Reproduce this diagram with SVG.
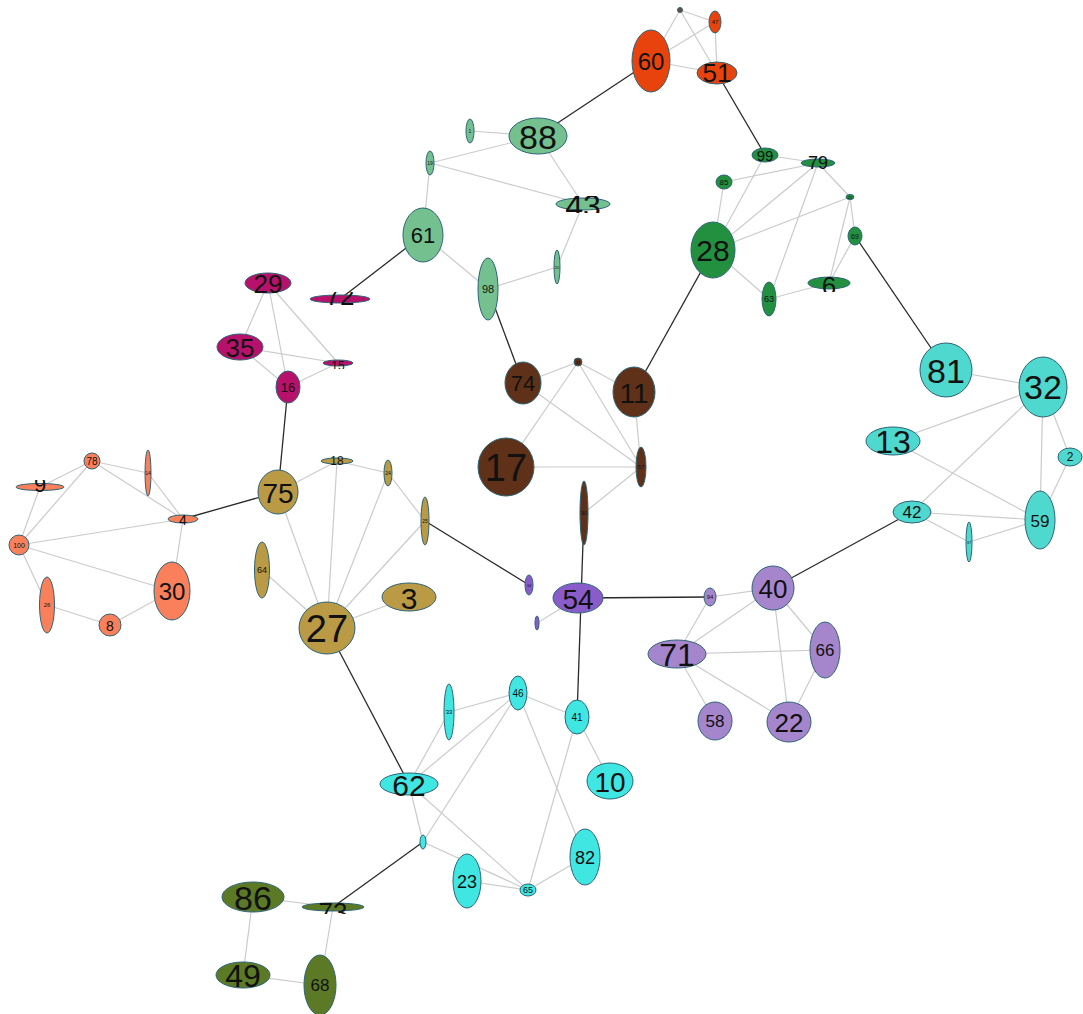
<svg xmlns="http://www.w3.org/2000/svg" width="1083" height="1014" viewBox="0 0 1083 1014">
<style>
.e{stroke:#cbcbcb;stroke-width:1.2;fill:none}
.d{stroke:#2a2a2a;stroke-width:1.3;fill:none}
ellipse{stroke:#2d6476;stroke-width:1}
text{font-family:"Liberation Sans",Arial,sans-serif;fill:#111;text-anchor:middle;dominant-baseline:central}
.red{fill:#e8430d}.sg{fill:#74c18f}.dg{fill:#22903f}.mg{fill:#b8116b}
.sa{fill:#f9805b}.go{fill:#ba9a44}.br{fill:#5e3118}.pu{fill:#8a5cc9}
.la{fill:#a585cc}.tq{fill:#4ed8ce}.cy{fill:#40e6e2}.ol{fill:#5c7a26}
</style>
<defs>
<clipPath id="c43"><rect x="554" y="196" width="58" height="17"/></clipPath>
<clipPath id="c72"><rect x="308" y="292" width="64" height="14"/></clipPath>
<clipPath id="c15"><rect x="321" y="357" width="34" height="12"/></clipPath>
<clipPath id="c79"><rect x="799" y="156" width="38" height="14"/></clipPath>
<clipPath id="c6"><rect x="806" y="274" width="46" height="18"/></clipPath>
<clipPath id="c9"><rect x="14" y="480" width="52" height="14"/></clipPath>
<clipPath id="c4"><rect x="166" y="512" width="34" height="14"/></clipPath>
<clipPath id="c73"><rect x="300" y="900" width="66" height="14"/></clipPath>
<clipPath id="c18"><rect x="319" y="455" width="36" height="12"/></clipPath>
</defs>
<g id="edges">
<line class="e" x1="680" y1="10" x2="651" y2="61"/>
<line class="e" x1="680" y1="10" x2="717" y2="73"/>
<line class="e" x1="680" y1="10" x2="715" y2="22"/>
<line class="e" x1="715" y1="22" x2="651" y2="61"/>
<line class="e" x1="715" y1="22" x2="717" y2="73"/>
<line class="e" x1="651" y1="61" x2="717" y2="73"/>
<line class="e" x1="470" y1="131" x2="538" y2="136"/>
<line class="e" x1="538" y1="136" x2="430" y2="163"/>
<line class="e" x1="430" y1="163" x2="583" y2="204"/>
<line class="e" x1="538" y1="136" x2="583" y2="204"/>
<line class="e" x1="583" y1="204" x2="557" y2="267"/>
<line class="e" x1="557" y1="267" x2="488" y2="289"/>
<line class="e" x1="423" y1="235" x2="430" y2="163"/>
<line class="e" x1="423" y1="235" x2="488" y2="289"/>
<line class="e" x1="765" y1="155" x2="818" y2="163"/>
<line class="e" x1="724" y1="182" x2="818" y2="163"/>
<line class="e" x1="765" y1="155" x2="713" y2="250"/>
<line class="e" x1="724" y1="182" x2="713" y2="250"/>
<line class="e" x1="818" y1="163" x2="713" y2="250"/>
<line class="e" x1="818" y1="163" x2="850" y2="197"/>
<line class="e" x1="818" y1="163" x2="769" y2="299"/>
<line class="e" x1="850" y1="197" x2="713" y2="250"/>
<line class="e" x1="850" y1="197" x2="855" y2="236"/>
<line class="e" x1="850" y1="197" x2="829" y2="283"/>
<line class="e" x1="855" y1="236" x2="829" y2="283"/>
<line class="e" x1="713" y1="250" x2="769" y2="299"/>
<line class="e" x1="769" y1="299" x2="829" y2="283"/>
<line class="e" x1="268" y1="283" x2="240" y2="347"/>
<line class="e" x1="268" y1="283" x2="288" y2="387"/>
<line class="e" x1="268" y1="283" x2="338" y2="363"/>
<line class="e" x1="240" y1="347" x2="338" y2="363"/>
<line class="e" x1="240" y1="347" x2="288" y2="387"/>
<line class="e" x1="288" y1="387" x2="338" y2="363"/>
<line class="e" x1="92" y1="461" x2="40" y2="487"/>
<line class="e" x1="92" y1="461" x2="148" y2="473"/>
<line class="e" x1="92" y1="461" x2="183" y2="519"/>
<line class="e" x1="148" y1="473" x2="183" y2="519"/>
<line class="e" x1="40" y1="487" x2="19" y2="545"/>
<line class="e" x1="92" y1="461" x2="19" y2="545"/>
<line class="e" x1="19" y1="545" x2="183" y2="519"/>
<line class="e" x1="19" y1="545" x2="172" y2="591"/>
<line class="e" x1="19" y1="545" x2="47" y2="605"/>
<line class="e" x1="183" y1="519" x2="172" y2="591"/>
<line class="e" x1="47" y1="605" x2="110" y2="625"/>
<line class="e" x1="110" y1="625" x2="172" y2="591"/>
<line class="e" x1="278" y1="492" x2="337" y2="461"/>
<line class="e" x1="337" y1="461" x2="327" y2="628"/>
<line class="e" x1="337" y1="461" x2="388" y2="473"/>
<line class="e" x1="388" y1="473" x2="327" y2="628"/>
<line class="e" x1="388" y1="473" x2="425" y2="521"/>
<line class="e" x1="425" y1="521" x2="327" y2="628"/>
<line class="e" x1="278" y1="492" x2="327" y2="628"/>
<line class="e" x1="262" y1="570" x2="327" y2="628"/>
<line class="e" x1="409" y1="597" x2="327" y2="628"/>
<line class="e" x1="523" y1="383" x2="578" y2="362"/>
<line class="e" x1="578" y1="362" x2="634" y2="392"/>
<line class="e" x1="578" y1="362" x2="506" y2="467"/>
<line class="e" x1="578" y1="362" x2="641" y2="467"/>
<line class="e" x1="523" y1="383" x2="641" y2="467"/>
<line class="e" x1="634" y1="392" x2="641" y2="467"/>
<line class="e" x1="506" y1="467" x2="641" y2="467"/>
<line class="e" x1="641" y1="467" x2="584" y2="513"/>
<line class="e" x1="578" y1="598" x2="537" y2="623"/>
<line class="e" x1="710" y1="597" x2="773" y2="588"/>
<line class="e" x1="710" y1="597" x2="677" y2="654"/>
<line class="e" x1="773" y1="588" x2="677" y2="654"/>
<line class="e" x1="773" y1="588" x2="825" y2="650"/>
<line class="e" x1="773" y1="588" x2="789" y2="722"/>
<line class="e" x1="677" y1="654" x2="825" y2="650"/>
<line class="e" x1="677" y1="654" x2="715" y2="721"/>
<line class="e" x1="677" y1="654" x2="789" y2="722"/>
<line class="e" x1="825" y1="650" x2="789" y2="722"/>
<line class="e" x1="946" y1="370" x2="1043" y2="387"/>
<line class="e" x1="1043" y1="387" x2="893" y2="441"/>
<line class="e" x1="1043" y1="387" x2="912" y2="512"/>
<line class="e" x1="1043" y1="387" x2="1040" y2="520"/>
<line class="e" x1="1043" y1="387" x2="1070" y2="457"/>
<line class="e" x1="1070" y1="457" x2="1040" y2="520"/>
<line class="e" x1="893" y1="441" x2="1040" y2="520"/>
<line class="e" x1="912" y1="512" x2="1040" y2="520"/>
<line class="e" x1="912" y1="512" x2="969" y2="542"/>
<line class="e" x1="969" y1="542" x2="1040" y2="520"/>
<line class="e" x1="449" y1="712" x2="518" y2="693"/>
<line class="e" x1="449" y1="712" x2="409" y2="784"/>
<line class="e" x1="518" y1="693" x2="409" y2="784"/>
<line class="e" x1="518" y1="693" x2="577" y2="717"/>
<line class="e" x1="518" y1="693" x2="423" y2="842"/>
<line class="e" x1="518" y1="693" x2="585" y2="857"/>
<line class="e" x1="577" y1="717" x2="610" y2="781"/>
<line class="e" x1="577" y1="717" x2="528" y2="890"/>
<line class="e" x1="409" y1="784" x2="423" y2="842"/>
<line class="e" x1="409" y1="784" x2="528" y2="890"/>
<line class="e" x1="423" y1="842" x2="528" y2="890"/>
<line class="e" x1="467" y1="881" x2="528" y2="890"/>
<line class="e" x1="585" y1="857" x2="528" y2="890"/>
<line class="e" x1="253" y1="897" x2="333" y2="907"/>
<line class="e" x1="253" y1="897" x2="243" y2="975"/>
<line class="e" x1="243" y1="975" x2="320" y2="985"/>
<line class="e" x1="333" y1="907" x2="320" y2="985"/>
<line class="d" x1="651" y1="61" x2="538" y2="136"/>
<line class="d" x1="717" y1="73" x2="765" y2="155"/>
<line class="d" x1="423" y1="235" x2="340" y2="299"/>
<line class="d" x1="488" y1="289" x2="523" y2="383"/>
<line class="d" x1="634" y1="392" x2="713" y2="250"/>
<line class="d" x1="855" y1="236" x2="946" y2="370"/>
<line class="d" x1="288" y1="387" x2="278" y2="492"/>
<line class="d" x1="278" y1="492" x2="183" y2="519"/>
<line class="d" x1="425" y1="521" x2="529" y2="585"/>
<line class="d" x1="327" y1="628" x2="409" y2="784"/>
<line class="d" x1="584" y1="513" x2="577" y2="717"/>
<line class="d" x1="578" y1="598" x2="710" y2="597"/>
<line class="d" x1="773" y1="588" x2="912" y2="512"/>
<line class="d" x1="423" y1="842" x2="333" y2="907"/>
</g>
<g id="n5"><ellipse cx="680" cy="10" rx="2.5" ry="2.5" fill="#6a4a3a"/></g>
<g id="n47"><ellipse class="red" cx="715" cy="22" rx="6" ry="11"/><text x="715" y="22" font-size="6">47</text></g>
<g id="n60"><ellipse class="red" cx="651" cy="61" rx="19" ry="31"/><text x="651" y="61" font-size="24">60</text></g>
<g id="n51"><ellipse class="red" cx="717" cy="73" rx="20" ry="11"/><text x="717" y="73" font-size="26">51</text></g>
<g id="n1"><ellipse class="sg" cx="470" cy="131" rx="4" ry="12"/><text x="470" y="131" font-size="5">1</text></g>
<g id="n88"><ellipse class="sg" cx="538" cy="136" rx="29" ry="18"/><text x="538" y="137" font-size="34">88</text></g>
<g id="n43"><ellipse class="sg" cx="583" cy="204" rx="27" ry="6"/><text x="583" y="206" font-size="32" clip-path="url(#c43)">43</text></g>
<g id="n20"><ellipse class="sg" cx="557" cy="267" rx="3" ry="17"/><text x="557" y="267" font-size="4">20</text></g>
<g id="n98"><ellipse class="sg" cx="488" cy="289" rx="10" ry="31"/><text x="488" y="289" font-size="11">98</text></g>
<g id="n19"><ellipse class="sg" cx="430" cy="163" rx="4" ry="12"/><text x="430" y="163" font-size="5">19</text></g>
<g id="n61"><ellipse class="sg" cx="423" cy="235" rx="20" ry="27"/><text x="423" y="235" font-size="22">61</text></g>
<g id="n99"><ellipse class="dg" cx="765" cy="155" rx="13" ry="7"/><text x="765" y="155" font-size="15">99</text></g>
<g id="n79"><ellipse class="dg" cx="818" cy="163" rx="17" ry="4"/><text x="818" y="163" font-size="18" clip-path="url(#c79)">79</text></g>
<g id="n85"><ellipse class="dg" cx="724" cy="182" rx="8" ry="7"/><text x="724" y="182" font-size="8">85</text></g>
<g id="n21"><ellipse class="dg" cx="850" cy="197" rx="4" ry="2.5"/><text x="850" y="197" font-size="4">21</text></g>
<g id="n69"><ellipse class="dg" cx="855" cy="236" rx="7" ry="9"/><text x="855" y="236" font-size="7">69</text></g>
<g id="n28"><ellipse class="dg" cx="713" cy="250" rx="22" ry="28"/><text x="713" y="250" font-size="30">28</text></g>
<g id="n63"><ellipse class="dg" cx="769" cy="299" rx="7" ry="17"/><text x="769" y="299" font-size="9">63</text></g>
<g id="n6"><ellipse class="dg" cx="829" cy="283" rx="21" ry="6"/><text x="829" y="286" font-size="26" clip-path="url(#c6)">6</text></g>
<g id="n29"><ellipse class="mg" cx="268" cy="283" rx="23" ry="10"/><text x="268" y="284" font-size="26">29</text></g>
<g id="n72"><ellipse class="mg" cx="340" cy="299" rx="30" ry="4"/><text x="340" y="296" font-size="26" clip-path="url(#c72)">72</text></g>
<g id="n35"><ellipse class="mg" cx="240" cy="347" rx="23" ry="13"/><text x="240" y="348" font-size="26">35</text></g>
<g id="n15"><ellipse class="mg" cx="338" cy="363" rx="15" ry="3"/><text x="338" y="366" font-size="12" clip-path="url(#c15)">15</text></g>
<g id="n16"><ellipse class="mg" cx="288" cy="387" rx="12" ry="16"/><text x="288" y="387" font-size="13">16</text></g>
<g id="n78"><ellipse class="sa" cx="92" cy="461" rx="8" ry="8"/><text x="92" y="461" font-size="10">78</text></g>
<g id="n14"><ellipse class="sa" cx="148" cy="473" rx="3" ry="23"/><text x="148" y="473" font-size="5">14</text></g>
<g id="n9"><ellipse class="sa" cx="40" cy="487" rx="24" ry="3.5"/><text x="40" y="484" font-size="22" clip-path="url(#c9)">9</text></g>
<g id="n4"><ellipse class="sa" cx="183" cy="519" rx="15" ry="4"/><text x="183" y="520" font-size="14" clip-path="url(#c4)">4</text></g>
<g id="n100"><ellipse class="sa" cx="19" cy="545" rx="10" ry="10"/><text x="19" y="545" font-size="7">100</text></g>
<g id="n30"><ellipse class="sa" cx="172" cy="591" rx="18" ry="29"/><text x="172" y="591" font-size="24">30</text></g>
<g id="n26"><ellipse class="sa" cx="47" cy="605" rx="7.5" ry="28"/><text x="47" y="605" font-size="6">26</text></g>
<g id="n8"><ellipse class="sa" cx="110" cy="625" rx="11" ry="11"/><text x="110" y="626" font-size="14">8</text></g>
<g id="n75"><ellipse class="go" cx="278" cy="492" rx="20" ry="22"/><text x="278" y="493" font-size="28">75</text></g>
<g id="n18"><ellipse class="go" cx="337" cy="461" rx="16" ry="3"/><text x="337" y="461" font-size="12" clip-path="url(#c18)">18</text></g>
<g id="n24"><ellipse class="go" cx="388" cy="473" rx="4" ry="13"/><text x="388" y="473" font-size="5">24</text></g>
<g id="n25"><ellipse class="go" cx="425" cy="521" rx="4" ry="24"/><text x="425" y="521" font-size="5">25</text></g>
<g id="n64"><ellipse class="go" cx="262" cy="570" rx="7.5" ry="28"/><text x="262" y="570" font-size="9">64</text></g>
<g id="n3"><ellipse class="go" cx="409" cy="597" rx="27" ry="14"/><text x="409" y="598" font-size="30">3</text></g>
<g id="n27"><ellipse class="go" cx="327" cy="628" rx="28" ry="26"/><text x="327" y="629" font-size="38">27</text></g>
<g id="n74"><ellipse class="br" cx="523" cy="383" rx="18" ry="21"/><text x="523" y="383" font-size="22">74</text></g>
<g id="n31"><ellipse class="br" cx="578" cy="362" rx="4" ry="4"/><text x="578" y="362" font-size="4">31</text></g>
<g id="n11"><ellipse class="br" cx="634" cy="392" rx="21" ry="25"/><text x="634" y="393" font-size="28">11</text></g>
<g id="n17"><ellipse class="br" cx="506" cy="467" rx="28" ry="29"/><text x="506" y="468" font-size="38">17</text></g>
<g id="n57"><ellipse class="br" cx="641" cy="467" rx="5" ry="20"/><text x="641" y="467" font-size="6">57</text></g>
<g id="n90"><ellipse class="br" cx="584" cy="513" rx="4" ry="32"/><text x="584" y="513" font-size="5">90</text></g>
<g id="n34"><ellipse class="pu" cx="529" cy="585" rx="4" ry="10"/><text x="529" y="585" font-size="4">34</text></g>
<g id="n54"><ellipse class="pu" cx="578" cy="598" rx="25" ry="15"/><text x="578" y="599" font-size="28">54</text></g>
<g id="n36"><ellipse class="pu" cx="537" cy="623" rx="2" ry="7"/></g>
<g id="n94"><ellipse class="la" cx="710" cy="597" rx="6" ry="9"/><text x="710" y="597" font-size="6">94</text></g>
<g id="n40"><ellipse class="la" cx="773" cy="588" rx="21" ry="22"/><text x="773" y="589" font-size="26">40</text></g>
<g id="n71"><ellipse class="la" cx="677" cy="654" rx="29" ry="14"/><text x="677" y="655" font-size="32">71</text></g>
<g id="n66"><ellipse class="la" cx="825" cy="650" rx="15" ry="28"/><text x="825" y="650" font-size="17">66</text></g>
<g id="n58"><ellipse class="la" cx="715" cy="721" rx="17" ry="19"/><text x="715" y="721" font-size="17">58</text></g>
<g id="n22"><ellipse class="la" cx="789" cy="722" rx="22" ry="20"/><text x="789" y="723" font-size="26">22</text></g>
<g id="n81"><ellipse class="tq" cx="946" cy="370" rx="26" ry="27"/><text x="946" y="371" font-size="34">81</text></g>
<g id="n32"><ellipse class="tq" cx="1043" cy="387" rx="24" ry="30"/><text x="1043" y="387" font-size="34">32</text></g>
<g id="n13"><ellipse class="tq" cx="893" cy="441" rx="27" ry="14"/><text x="893" y="442" font-size="32">13</text></g>
<g id="n2"><ellipse class="tq" cx="1070" cy="457" rx="12" ry="9"/><text x="1070" y="457" font-size="12">2</text></g>
<g id="n42"><ellipse class="tq" cx="912" cy="512" rx="19" ry="11"/><text x="912" y="512" font-size="17">42</text></g>
<g id="n59"><ellipse class="tq" cx="1040" cy="520" rx="15" ry="29"/><text x="1040" y="521" font-size="17">59</text></g>
<g id="n37"><ellipse class="tq" cx="969" cy="542" rx="3" ry="20"/><text x="969" y="542" font-size="4">37</text></g>
<g id="n33"><ellipse class="cy" cx="449" cy="712" rx="5" ry="28"/><text x="449" y="712" font-size="6">33</text></g>
<g id="n46"><ellipse class="cy" cx="518" cy="693" rx="9" ry="17"/><text x="518" y="693" font-size="10">46</text></g>
<g id="n41"><ellipse class="cy" cx="577" cy="717" rx="12" ry="17"/><text x="577" y="717" font-size="10">41</text></g>
<g id="n10"><ellipse class="cy" cx="610" cy="781" rx="23" ry="18"/><text x="610" y="782" font-size="28">10</text></g>
<g id="n62"><ellipse class="cy" cx="409" cy="784" rx="29" ry="11"/><text x="409" y="785" font-size="30">62</text></g>
<g id="n38"><ellipse class="cy" cx="423" cy="842" rx="3" ry="7"/></g>
<g id="n23"><ellipse class="cy" cx="467" cy="881" rx="14" ry="27"/><text x="467" y="882" font-size="18">23</text></g>
<g id="n65"><ellipse class="cy" cx="528" cy="890" rx="8" ry="6"/><text x="528" y="890" font-size="9">65</text></g>
<g id="n82"><ellipse class="cy" cx="585" cy="857" rx="15" ry="28"/><text x="585" y="858" font-size="18">82</text></g>
<g id="n86"><ellipse class="ol" cx="253" cy="897" rx="31" ry="15"/><text x="253" y="898" font-size="34">86</text></g>
<g id="n73"><ellipse class="ol" cx="333" cy="907" rx="31" ry="4"/><text x="333" y="912" font-size="26" clip-path="url(#c73)">73</text></g>
<g id="n49"><ellipse class="ol" cx="243" cy="975" rx="27" ry="13"/><text x="243" y="976" font-size="32">49</text></g>
<g id="n68"><ellipse class="ol" cx="320" cy="985" rx="16" ry="30"/><text x="320" y="985" font-size="17">68</text></g>
</svg>
